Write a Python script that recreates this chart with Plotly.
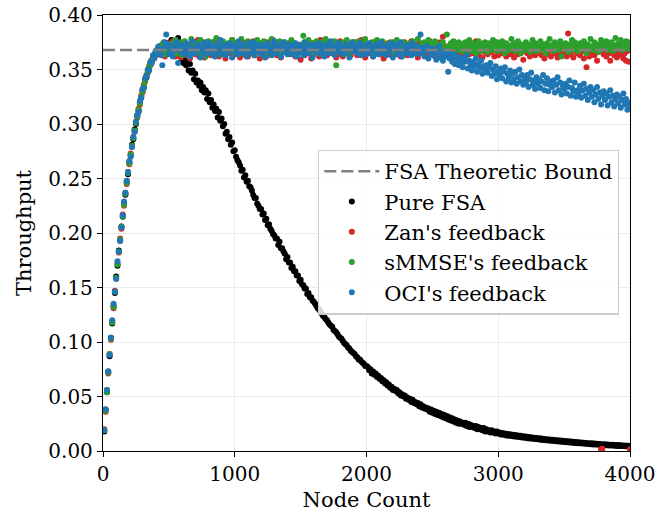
import plotly.graph_objects as go

# Node counts simulated (10 .. 4000, step 10)
node_counts = list(range(10, 4001, 10))

# FSA theoretic bound (1/e)
fsa_bound = 0.368

pure_fsa = [
    0.018, 0.038, 0.054, 0.073, 0.087, 0.104, 0.117, 0.133, 0.145, 0.160,
    0.170, 0.184, 0.193, 0.206, 0.215, 0.227, 0.235, 0.247, 0.254, 0.265,
    0.271, 0.281, 0.286, 0.295, 0.300, 0.308, 0.312, 0.320, 0.324, 0.331,
    0.334, 0.341, 0.343, 0.349, 0.351, 0.356, 0.357, 0.362, 0.362, 0.366,
    0.366, 0.369, 0.364, 0.371, 0.368, 0.372, 0.366, 0.370, 0.374, 0.368,
    0.375, 0.377, 0.370, 0.368, 0.366, 0.372, 0.379, 0.366, 0.362, 0.359,
    0.356, 0.362, 0.354, 0.357, 0.349, 0.355, 0.347, 0.349, 0.341, 0.346,
    0.338, 0.340, 0.335, 0.338, 0.331, 0.334, 0.329, 0.331, 0.323, 0.328,
    0.320, 0.322, 0.315, 0.318, 0.312, 0.314, 0.306, 0.311, 0.303, 0.305,
    0.298, 0.300, 0.291, 0.293, 0.286, 0.288, 0.281, 0.283, 0.275, 0.276,
    0.270, 0.267, 0.265, 0.262, 0.257, 0.258, 0.251, 0.253, 0.247, 0.248,
    0.243, 0.242, 0.239, 0.235, 0.232, 0.232, 0.227, 0.225, 0.222, 0.222,
    0.217, 0.218, 0.212, 0.213, 0.207, 0.208, 0.204, 0.202, 0.199, 0.198,
    0.195, 0.195, 0.189, 0.192, 0.186, 0.186, 0.183, 0.181, 0.176, 0.178,
    0.173, 0.173, 0.168, 0.169, 0.165, 0.165, 0.161, 0.161, 0.156, 0.157,
    0.153, 0.152, 0.149, 0.149, 0.144, 0.145, 0.141, 0.141, 0.138, 0.137,
    0.135, 0.133, 0.131, 0.130, 0.128, 0.126, 0.124, 0.123, 0.121, 0.120,
    0.118, 0.116, 0.115, 0.114, 0.111, 0.110, 0.109, 0.107, 0.105, 0.104,
    0.103, 0.101, 0.099, 0.098, 0.097, 0.095, 0.094, 0.092, 0.091, 0.090,
    0.089, 0.087, 0.086, 0.084, 0.084, 0.082, 0.081, 0.080, 0.078, 0.078,
    0.077, 0.074, 0.075, 0.071, 0.073, 0.070, 0.071, 0.068, 0.069, 0.066,
    0.067, 0.064, 0.065, 0.062, 0.063, 0.060, 0.061, 0.058, 0.059, 0.056,
    0.057, 0.055, 0.056, 0.053, 0.054, 0.051, 0.052, 0.050, 0.051, 0.048,
    0.049, 0.047, 0.048, 0.045, 0.047, 0.044, 0.045, 0.043, 0.044, 0.041,
    0.043, 0.040, 0.041, 0.039, 0.040, 0.038, 0.039, 0.036, 0.038, 0.035,
    0.037, 0.034, 0.036, 0.033, 0.035, 0.032, 0.034, 0.031, 0.033, 0.030,
    0.032, 0.029, 0.031, 0.028, 0.030, 0.027, 0.029, 0.026, 0.028, 0.025,
    0.027, 0.025, 0.026, 0.024, 0.026, 0.023, 0.025, 0.022, 0.024, 0.022,
    0.023, 0.021, 0.023, 0.020, 0.022, 0.020, 0.021, 0.019, 0.021, 0.018,
    0.020, 0.018, 0.019, 0.017, 0.019, 0.017, 0.018, 0.016, 0.018, 0.016,
    0.0170, 0.0152, 0.0165, 0.0148, 0.0160, 0.0143, 0.0157, 0.0140, 0.0153, 0.0138,
    0.0150, 0.0134, 0.0146, 0.0130, 0.0142, 0.0128, 0.0139, 0.0124, 0.0135, 0.0121,
    0.0132, 0.0118, 0.0129, 0.0115, 0.0126, 0.0112, 0.0122, 0.0109, 0.0119, 0.0107,
    0.0117, 0.0104, 0.0114, 0.0101, 0.0111, 0.0099, 0.0108, 0.0096, 0.0105, 0.0094,
    0.0103, 0.0091, 0.0100, 0.0089, 0.0098, 0.0087, 0.0096, 0.0085, 0.0093, 0.0082,
    0.0091, 0.0080, 0.0089, 0.0078, 0.0087, 0.0076, 0.0085, 0.0074, 0.0082, 0.0072,
    0.0080, 0.0070, 0.0078, 0.0068, 0.0076, 0.0066, 0.0074, 0.0064, 0.0072, 0.0062,
    0.0070, 0.0060, 0.0068, 0.0059, 0.0066, 0.0057, 0.0065, 0.0055, 0.0063, 0.0054,
    0.0062, 0.0052, 0.0060, 0.0051, 0.0058, 0.0050, 0.0057, 0.0048, 0.0055, 0.0047,
    0.0054, 0.0046, 0.0052, 0.0045, 0.0051, 0.0044, 0.0050, 0.0042, 0.0048, 0.0041,
]

zan_feedback = [
    0.020, 0.036, 0.056, 0.071, 0.089, 0.102, 0.119, 0.131, 0.147, 0.158,
    0.172, 0.182, 0.195, 0.204, 0.217, 0.225, 0.237, 0.245, 0.256, 0.263,
    0.273, 0.279, 0.288, 0.293, 0.302, 0.306, 0.314, 0.318, 0.326, 0.329,
    0.336, 0.339, 0.345, 0.347, 0.353, 0.354, 0.359, 0.360, 0.364, 0.363,
    0.368, 0.366, 0.371, 0.365, 0.373, 0.367, 0.362, 0.371, 0.366, 0.374,
    0.371, 0.364, 0.376, 0.368, 0.362, 0.370, 0.373, 0.366, 0.361, 0.369,
    0.375, 0.367, 0.363, 0.372, 0.369, 0.360, 0.374, 0.366, 0.371, 0.364,
    0.368, 0.377, 0.362, 0.370, 0.366, 0.373, 0.361, 0.369, 0.375, 0.365,
    0.370, 0.363, 0.372, 0.367, 0.376, 0.364, 0.369, 0.362, 0.371, 0.374,
    0.366, 0.371, 0.360, 0.368, 0.373, 0.365, 0.370, 0.377, 0.363, 0.369,
    0.372, 0.366, 0.374, 0.361, 0.369, 0.375, 0.364, 0.370, 0.367, 0.362,
    0.373, 0.368, 0.365, 0.376, 0.363, 0.371, 0.367, 0.374, 0.360, 0.369,
    0.366, 0.372, 0.369, 0.362, 0.375, 0.368, 0.364, 0.371, 0.377, 0.365,
    0.370, 0.363, 0.373, 0.367, 0.361, 0.372, 0.369, 0.366, 0.374, 0.368,
    0.364, 0.371, 0.376, 0.365, 0.370, 0.362, 0.368, 0.373, 0.366, 0.359,
    0.372, 0.367, 0.363, 0.375, 0.369, 0.365, 0.371, 0.360, 0.374, 0.368,
    0.366, 0.373, 0.369, 0.362, 0.377, 0.364, 0.370, 0.367, 0.372, 0.363,
    0.369, 0.375, 0.365, 0.371, 0.366, 0.373, 0.361, 0.368, 0.364, 0.376,
    0.367, 0.362, 0.372, 0.369, 0.374, 0.365, 0.370, 0.363, 0.368, 0.371,
    0.375, 0.366, 0.363, 0.372, 0.368, 0.377, 0.364, 0.369, 0.361, 0.373,
    0.368, 0.371, 0.365, 0.374, 0.362, 0.369, 0.376, 0.366, 0.370, 0.364,
    0.372, 0.367, 0.360, 0.371, 0.368, 0.374, 0.365, 0.369, 0.363, 0.375,
    0.366, 0.370, 0.373, 0.364, 0.369, 0.362, 0.372, 0.367, 0.375, 0.368,
    0.363, 0.371, 0.368, 0.376, 0.365, 0.370, 0.366, 0.373, 0.361, 0.369,
    0.374, 0.365, 0.370, 0.367, 0.372, 0.363, 0.368, 0.376, 0.364, 0.371,
    0.369, 0.362, 0.373, 0.366, 0.370, 0.375, 0.365, 0.380, 0.368, 0.363,
    0.371, 0.367, 0.364, 0.372, 0.369, 0.361, 0.374, 0.366, 0.370, 0.365,
    0.368, 0.373, 0.366, 0.362, 0.371, 0.369, 0.375, 0.364, 0.367, 0.372,
    0.365, 0.370, 0.376, 0.367, 0.363, 0.372, 0.368, 0.361, 0.374, 0.366,
    0.371, 0.364, 0.369, 0.373, 0.366, 0.370, 0.362, 0.375, 0.367, 0.363,
    0.369, 0.374, 0.365, 0.370, 0.367, 0.362, 0.372, 0.366, 0.364, 0.371,
    0.366, 0.361, 0.373, 0.368, 0.364, 0.370, 0.365, 0.372, 0.359, 0.367,
    0.372, 0.365, 0.369, 0.362, 0.370, 0.366, 0.374, 0.363, 0.368, 0.365,
    0.367, 0.371, 0.363, 0.369, 0.360, 0.366, 0.372, 0.364, 0.370, 0.362,
    0.368, 0.373, 0.365, 0.370, 0.361, 0.367, 0.364, 0.369, 0.363, 0.371,
    0.366, 0.362, 0.383, 0.368, 0.364, 0.370, 0.361, 0.367, 0.372, 0.365,
    0.369, 0.363, 0.366, 0.371, 0.360, 0.368, 0.352, 0.370, 0.362, 0.367,
    0.365, 0.371, 0.363, 0.368, 0.358, 0.366, 0.369, 0.0015, 0.002, 0.364,
    0.368, 0.362, 0.370, 0.365, 0.358, 0.367, 0.372, 0.363, 0.369, 0.361,
    0.366, 0.371, 0.363, 0.368, 0.360, 0.365, 0.358, 0.367, 0.357, 0.0015,
]

smmse_feedback = [
    0.019, 0.037, 0.054, 0.072, 0.089, 0.103, 0.118, 0.132, 0.146, 0.159,
    0.171, 0.183, 0.194, 0.206, 0.215, 0.226, 0.236, 0.246, 0.255, 0.264,
    0.272, 0.280, 0.287, 0.294, 0.301, 0.307, 0.313, 0.319, 0.325, 0.330,
    0.335, 0.340, 0.344, 0.348, 0.352, 0.355, 0.358, 0.361, 0.363, 0.365,
    0.367, 0.370, 0.366, 0.372, 0.369, 0.375, 0.364, 0.371, 0.368, 0.373,
    0.370, 0.366, 0.374, 0.369, 0.377, 0.365, 0.372, 0.368, 0.375, 0.363,
    0.371, 0.376, 0.367, 0.373, 0.364, 0.370, 0.378, 0.368, 0.372, 0.366,
    0.374, 0.369, 0.365, 0.377, 0.371, 0.367, 0.373, 0.362, 0.370, 0.376,
    0.368, 0.372, 0.375, 0.366, 0.371, 0.379, 0.367, 0.373, 0.364, 0.370,
    0.376, 0.369, 0.372, 0.365, 0.374, 0.368, 0.371, 0.377, 0.366, 0.373,
    0.369, 0.375, 0.364, 0.371, 0.378, 0.367, 0.373, 0.370, 0.365, 0.376,
    0.372, 0.366, 0.374, 0.369, 0.363, 0.371, 0.377, 0.368, 0.374, 0.365,
    0.370, 0.376, 0.367, 0.373, 0.369, 0.364, 0.372, 0.378, 0.366, 0.371,
    0.374, 0.368, 0.372, 0.376, 0.365, 0.370, 0.367, 0.375, 0.369, 0.373,
    0.366, 0.371, 0.377, 0.368, 0.374, 0.370, 0.363, 0.372, 0.369, 0.367,
    0.373, 0.381, 0.375, 0.366, 0.371, 0.377, 0.368, 0.374, 0.370, 0.364,
    0.372, 0.376, 0.367, 0.371, 0.369, 0.375, 0.365, 0.373, 0.378, 0.368,
    0.370, 0.374, 0.366, 0.372, 0.368, 0.376, 0.354, 0.371, 0.367, 0.373,
    0.369, 0.375, 0.364, 0.372, 0.377, 0.368, 0.373, 0.366, 0.371, 0.375,
    0.367, 0.372, 0.369, 0.376, 0.365, 0.371, 0.374, 0.368, 0.378, 0.370,
    0.373, 0.366, 0.371, 0.375, 0.369, 0.364, 0.372, 0.377, 0.367, 0.374,
    0.370, 0.376, 0.368, 0.372, 0.365, 0.373, 0.369, 0.375, 0.371, 0.366,
    0.374, 0.369, 0.377, 0.367, 0.372, 0.370, 0.366, 0.375, 0.368, 0.373,
    0.371, 0.365, 0.374, 0.369, 0.376, 0.372, 0.367, 0.370, 0.378, 0.368,
    0.373, 0.370, 0.366, 0.375, 0.369, 0.372, 0.377, 0.368, 0.374, 0.365,
    0.371, 0.376, 0.369, 0.373, 0.366, 0.372, 0.368, 0.375, 0.370, 0.364,
    0.382, 0.371, 0.367, 0.374, 0.369, 0.376, 0.365, 0.372, 0.370, 0.375,
    0.368, 0.373, 0.370, 0.366, 0.375, 0.369, 0.372, 0.377, 0.367, 0.371,
    0.374, 0.369, 0.365, 0.372, 0.376, 0.370, 0.367, 0.373, 0.368, 0.375,
    0.371, 0.366, 0.374, 0.369, 0.372, 0.377, 0.368, 0.370, 0.375, 0.367,
    0.373, 0.369, 0.376, 0.371, 0.365, 0.374, 0.370, 0.368, 0.372, 0.378,
    0.369, 0.374, 0.367, 0.372, 0.376, 0.370, 0.365, 0.373, 0.371, 0.368,
    0.375, 0.370, 0.373, 0.366, 0.372, 0.377, 0.369, 0.374, 0.367, 0.371,
    0.368, 0.376, 0.371, 0.373, 0.369, 0.365, 0.374, 0.370, 0.378, 0.372,
    0.370, 0.367, 0.375, 0.371, 0.373, 0.368, 0.376, 0.362, 0.372, 0.369,
    0.374, 0.370, 0.366, 0.373, 0.371, 0.377, 0.368, 0.375, 0.369, 0.372,
    0.367, 0.374, 0.371, 0.369, 0.376, 0.372, 0.365, 0.373, 0.370, 0.378,
    0.371, 0.368, 0.375, 0.370, 0.373, 0.366, 0.372, 0.377, 0.369, 0.374,
    0.370, 0.376, 0.368, 0.373, 0.371, 0.375, 0.367, 0.372, 0.379, 0.369,
    0.374, 0.370, 0.377, 0.368, 0.373, 0.371, 0.376, 0.369, 0.375, 0.372,
]

oci_feedback = [
    0.019, 0.038, 0.056, 0.073, 0.088, 0.104, 0.120, 0.135, 0.146, 0.158,
    0.174, 0.183, 0.193, 0.205, 0.216, 0.229, 0.237, 0.248, 0.256, 0.266,
    0.270, 0.279, 0.288, 0.293, 0.302, 0.308, 0.311, 0.321, 0.324, 0.332,
    0.333, 0.342, 0.344, 0.350, 0.349, 0.357, 0.356, 0.363, 0.360, 0.367,
    0.365, 0.371, 0.368, 0.363, 0.354, 0.369, 0.375, 0.382, 0.371, 0.364,
    0.373, 0.367, 0.362, 0.370, 0.368, 0.375, 0.356, 0.371, 0.366, 0.372,
    0.369, 0.364, 0.374, 0.367, 0.371, 0.362, 0.368, 0.376, 0.365, 0.370,
    0.366, 0.373, 0.369, 0.361, 0.372, 0.367, 0.375, 0.364, 0.370, 0.368,
    0.374, 0.365, 0.370, 0.368, 0.362, 0.373, 0.366, 0.371, 0.377, 0.364,
    0.368, 0.372, 0.363, 0.370, 0.366, 0.374, 0.369, 0.361, 0.372, 0.367,
    0.371, 0.364, 0.376, 0.368, 0.373, 0.365, 0.370, 0.367, 0.362, 0.374,
    0.366, 0.370, 0.368, 0.375, 0.363, 0.371, 0.367, 0.373, 0.369, 0.364,
    0.372, 0.367, 0.361, 0.370, 0.374, 0.366, 0.369, 0.363, 0.371, 0.376,
    0.365, 0.371, 0.368, 0.373, 0.362, 0.369, 0.375, 0.366, 0.370, 0.364,
    0.373, 0.368, 0.364, 0.371, 0.367, 0.374, 0.362, 0.370, 0.366, 0.372,
    0.369, 0.363, 0.375, 0.367, 0.371, 0.365, 0.370, 0.373, 0.361, 0.368,
    0.372, 0.366, 0.369, 0.374, 0.364, 0.370, 0.367, 0.362, 0.373, 0.368,
    0.365, 0.371, 0.376, 0.367, 0.370, 0.363, 0.372, 0.368, 0.374, 0.366,
    0.370, 0.364, 0.368, 0.373, 0.366, 0.371, 0.361, 0.369, 0.375, 0.367,
    0.372, 0.368, 0.365, 0.370, 0.374, 0.363, 0.369, 0.366, 0.372, 0.364,
    0.368, 0.374, 0.366, 0.371, 0.362, 0.369, 0.373, 0.367, 0.364, 0.370,
    0.375, 0.365, 0.371, 0.368, 0.363, 0.372, 0.366, 0.370, 0.374, 0.361,
    0.369, 0.373, 0.364, 0.370, 0.367, 0.375, 0.362, 0.368, 0.371, 0.365,
    0.372, 0.366, 0.369, 0.363, 0.374, 0.367, 0.370, 0.364, 0.371, 0.368,
    0.382, 0.365, 0.370, 0.362, 0.368, 0.371, 0.360, 0.367, 0.364, 0.369,
    0.363, 0.368, 0.359, 0.366, 0.371, 0.361, 0.365, 0.358, 0.367, 0.362,
    0.364, 0.348, 0.360, 0.366, 0.357, 0.362, 0.355, 0.363, 0.359, 0.354,
    0.361, 0.356, 0.352, 0.360, 0.357, 0.363, 0.351, 0.358, 0.354, 0.349,
    0.357, 0.353, 0.360, 0.348, 0.355, 0.351, 0.358, 0.346, 0.353, 0.350,
    0.354, 0.347, 0.352, 0.356, 0.344, 0.350, 0.346, 0.353, 0.341, 0.348,
    0.345, 0.351, 0.342, 0.348, 0.352, 0.339, 0.346, 0.343, 0.349, 0.338,
    0.346, 0.341, 0.348, 0.337, 0.343, 0.350, 0.339, 0.345, 0.336, 0.342,
    0.338, 0.345, 0.334, 0.341, 0.347, 0.336, 0.340, 0.332, 0.343, 0.337,
    0.341, 0.333, 0.339, 0.345, 0.331, 0.337, 0.342, 0.330, 0.336, 0.339,
    0.334, 0.340, 0.329, 0.336, 0.343, 0.331, 0.338, 0.327, 0.335, 0.332,
    0.337, 0.328, 0.334, 0.340, 0.326, 0.333, 0.330, 0.338, 0.325, 0.331,
    0.328, 0.335, 0.324, 0.331, 0.337, 0.326, 0.332, 0.322, 0.329, 0.334,
    0.325, 0.331, 0.320, 0.327, 0.334, 0.323, 0.329, 0.318, 0.326, 0.330,
    0.322, 0.328, 0.317, 0.325, 0.331, 0.320, 0.326, 0.316, 0.323, 0.327,
    0.319, 0.325, 0.315, 0.322, 0.328, 0.318, 0.323, 0.313, 0.320, 0.317,
]

x_ticks = [0, 1000, 2000, 3000, 4000]
y_ticks = [0.00, 0.05, 0.10, 0.15, 0.20, 0.25, 0.30, 0.35, 0.40]

FONT = "DejaVu Serif"
TICK_SIZE = 20
LABEL_SIZE = 21
MARKER_SIZE = 6

series = [
    ("Pure FSA", pure_fsa, "#000000"),
    ("Zan's feedback", zan_feedback, "#d62728"),
    ("sMMSE's feedback", smmse_feedback, "#2ca02c"),
    ("OCI's feedback", oci_feedback, "#1f77b4"),
]

fig = go.Figure()
for rank, (name, values, color) in enumerate(series, start=2):
    fig.add_trace(go.Scatter(
        x=node_counts, y=values, mode="markers", name=name,
        marker=dict(color=color, size=MARKER_SIZE, line=dict(width=0)),
        legendrank=rank,
    ))

# Theoretic bound drawn above the scatter clouds
fig.add_trace(go.Scatter(
    x=[0, 4000], y=[fsa_bound, fsa_bound], mode="lines",
    name="FSA Theoretic Bound",
    line=dict(color="#7f7f7f", width=2.5, dash="12px,5px"),
    legendrank=1,
))

axis_common = dict(
    showline=True, linecolor="black", linewidth=1.3, mirror=True,
    ticks="outside", ticklen=5, tickwidth=1.3, tickcolor="black",
    showgrid=True, gridcolor="#ebebeb", gridwidth=1.3,
    zeroline=False, automargin=False,
    tickfont=dict(family=FONT, size=TICK_SIZE, color="black"),
    title_font=dict(family=FONT, size=LABEL_SIZE, color="black"),
)

fig.update_layout(
    width=668, height=512,
    margin=dict(l=103, r=38, t=15, b=61),
    paper_bgcolor="white", plot_bgcolor="white",
    font=dict(family=FONT, size=TICK_SIZE, color="black"),
    showlegend=True,
    legend=dict(
        x=0.408, y=0.691, xanchor="left", yanchor="top",
        bgcolor="rgba(255,255,255,0.85)", bordercolor="#cccccc", borderwidth=1.3,
        font=dict(family=FONT, size=LABEL_SIZE, color="black"),
        itemwidth=55, tracegroupgap=0,
    ),
    xaxis=dict(
        range=[0, 4000], tickvals=x_ticks,
        title=dict(text="Node Count", standoff=10),
        **axis_common,
    ),
    yaxis=dict(
        range=[0, 0.40], tickvals=y_ticks, tickformat=".2f",
        title=dict(text="Throughput", standoff=10),
        **axis_common,
    ),
)

fig.write_html("out.html")
